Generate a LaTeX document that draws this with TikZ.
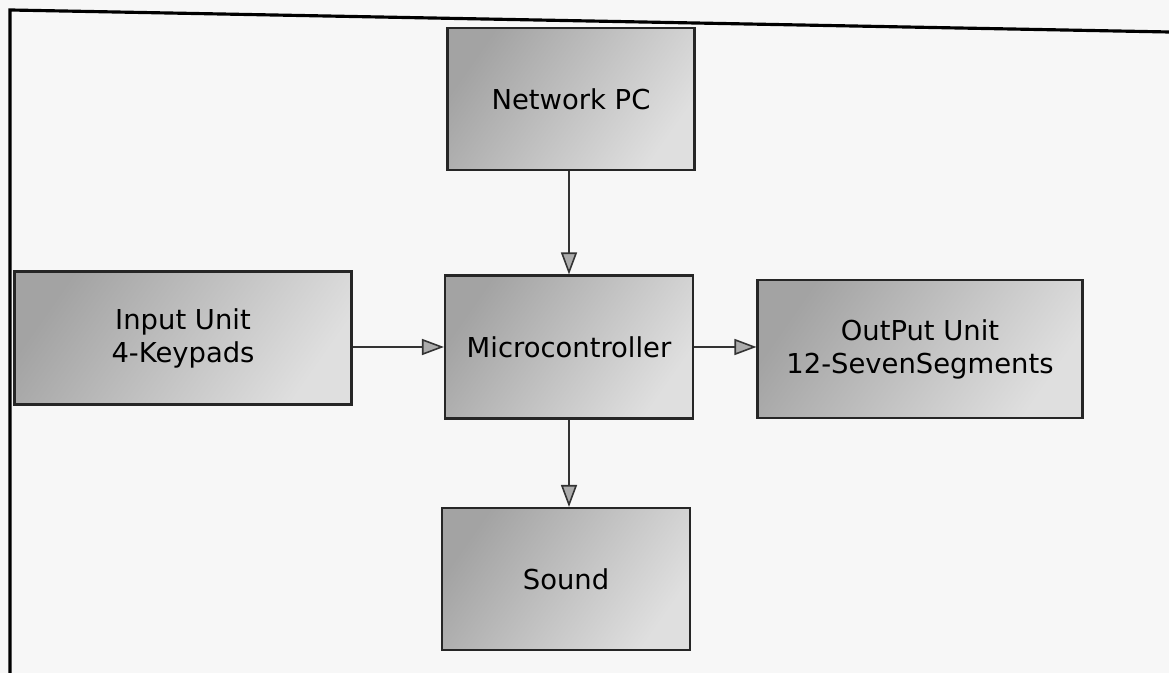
\documentclass[tikz,border=0pt]{standalone}
\usepackage{fontspec}
\setmainfont{DejaVu Sans}
\usetikzlibrary{arrows.meta}
\begin{document}
\begin{tikzpicture}[every node/.style={font=\fontsize{7.8}{9.4}\selectfont},
  blk/.style={draw=black!85,line width=0.6pt,left color=gray!72,right color=gray!25,shading angle=55,align=center,inner sep=0pt},
  lnk/.style={draw=black!80,line width=0.45pt,-{Triangle[length=2.2mm,width=1.6mm,fill=gray!65]}}]
\fill[gray!6] (0,0) rectangle (11.69,6.73);
\useasboundingbox (0,0) rectangle (11.69,6.73);
\draw[line width=0.9pt] (0.10,0) -- (0.10,6.63) -- (11.69,6.41);
\node[blk,minimum width=2.47cm,minimum height=1.42cm] (net) at (5.71,5.74) {Network PC};
\node[blk,minimum width=3.37cm,minimum height=1.33cm] (inp) at (1.83,3.35) {Input Unit\\4-Keypads};
\node[blk,minimum width=2.48cm,minimum height=1.43cm] (mcu) at (5.69,3.26) {Microcontroller};
\node[blk,minimum width=3.25cm,minimum height=1.38cm] (out) at (9.20,3.24) {OutPut Unit\\12-SevenSegments};
\node[blk,minimum width=2.48cm,minimum height=1.42cm] (snd) at (5.66,0.94) {Sound};
\draw[lnk] (net.south -| mcu.north) -- (mcu.north);
\draw[lnk] (inp.east |- mcu) -- (mcu.west);
\draw[lnk] (mcu.east) -- (out.west |- mcu);
\draw[lnk] (mcu.south) -- (mcu.south |- snd.north);
\end{tikzpicture}
\end{document}
